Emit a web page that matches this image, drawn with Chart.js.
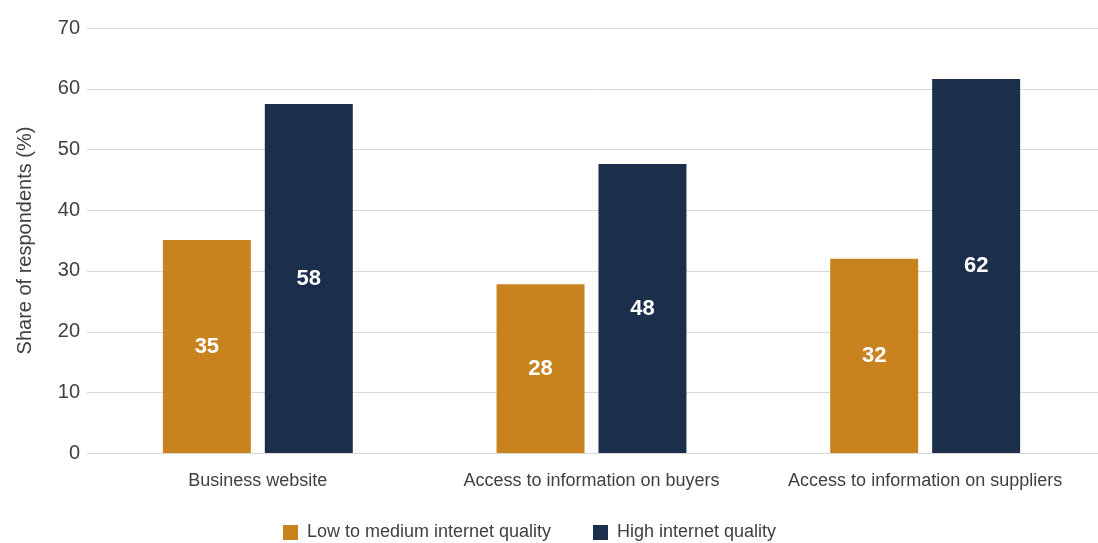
<!DOCTYPE html>
<html>
<head>
<meta charset="utf-8">
<script src="https://cdn.jsdelivr.net/npm/chart.js@4"></script>
<style>
  html, body { margin: 0; padding: 0; background: #ffffff; }
  #wrap { width: 1098px; height: 543px; position: relative; }
</style>
</head>
<body>
<div id="wrap"><canvas id="c"></canvas></div>
<script>
const categories = ["Business website", "Access to information on buyers", "Access to information on suppliers"];
const seriesNames = ["Low to medium internet quality", "High internet quality"];
const lowMedium = [35.1, 27.8, 32.0];
const high = [57.5, 47.6, 61.6];
const yTicks = [0, 10, 20, 30, 40, 50, 60, 70];
const colors = ["#C8821E", "#1B2F4D"];

const FONT = "'Liberation Sans', Arial, Helvetica, sans-serif";
const TEXT = "#404040";

// Horizontal gridlines, positioned by the y scale, extended slightly past the plot edges
const gridPlugin = {
  id: 'gridExt',
  beforeDatasetsDraw(chart) {
    const ctx = chart.ctx;
    const y = chart.scales.y;
    ctx.save();
    ctx.strokeStyle = "#d9d9d9";
    ctx.lineWidth = 1;
    yTicks.forEach(v => {
      const py = Math.round(y.getPixelForValue(v)) + 0.5;
      ctx.beginPath();
      ctx.moveTo(chart.chartArea.left - 4, py);
      ctx.lineTo(chart.width, py);
      ctx.stroke();
    });
    ctx.restore();
  }
};

const valueLabels = {
  id: 'valueLabels',
  afterDatasetsDraw(chart) {
    const ctx = chart.ctx;
    ctx.save();
    ctx.font = "bold 22px " + FONT;
    ctx.fillStyle = "#ffffff";
    ctx.textAlign = "center";
    ctx.textBaseline = "middle";
    chart.data.datasets.forEach((ds, di) => {
      const meta = chart.getDatasetMeta(di);
      meta.data.forEach((el, i) => {
        ctx.fillText(String(Math.round(ds.data[i])), el.x, (el.y + el.base) / 2);
      });
    });
    ctx.restore();
  }
};

const legendPlugin = {
  id: 'bottomLegend',
  afterDraw(chart) {
    const ctx = chart.ctx;
    const box = 15, gapText = 9, gapItem = 42, cy = 532, centerX = 529.5;
    ctx.save();
    ctx.font = "18px " + FONT;
    const items = chart.data.datasets.map(ds => ({ text: ds.label, color: ds.backgroundColor, w: ctx.measureText(ds.label).width }));
    const total = items.reduce((s, it) => s + box + gapText + it.w, 0) + gapItem * (items.length - 1);
    let x = centerX - total / 2;
    ctx.textBaseline = "middle";
    ctx.textAlign = "left";
    items.forEach(it => {
      ctx.fillStyle = it.color;
      ctx.fillRect(Math.round(x), Math.round(cy - box / 2), box, box);
      ctx.fillStyle = TEXT;
      ctx.fillText(it.text, x + box + gapText, cy);
      x += box + gapText + it.w + gapItem;
    });
    ctx.restore();
  }
};

new Chart(document.getElementById('c'), {
  type: 'bar',
  data: {
    labels: categories,
    datasets: [
      { label: seriesNames[0], data: lowMedium, backgroundColor: colors[0], borderWidth: 0 },
      { label: seriesNames[1], data: high, backgroundColor: colors[1], borderWidth: 0 }
    ]
  },
  options: {
    responsive: true,
    maintainAspectRatio: false,
    animation: false,
    devicePixelRatio: 1,
    datasets: { bar: { categoryPercentage: 0.611, barPercentage: 0.863 } },
    layout: { padding: { top: 28, left: 0, right: 6, bottom: 50 } },
    plugins: {
      tooltip: { enabled: false },
      legend: { display: false }
    },
    scales: {
      x: {
        grid: { display: false, drawTicks: false },
        border: { display: false },
        ticks: { color: TEXT, padding: 17, font: { family: FONT, size: 18 }, maxRotation: 0, autoSkip: false },
        afterFit(scale) { scale.height = 40; }
      },
      y: {
        min: 0,
        max: 70,
        afterBuildTicks(scale) { scale.ticks = yTicks.map(v => ({ value: v })); },
        grid: { display: false, drawTicks: false },
        border: { display: false },
        ticks: { color: TEXT, padding: 11, font: { family: FONT, size: 20 } },
        title: {
          display: true,
          text: "Share of respondents (%)",
          color: TEXT,
          font: { family: FONT, size: 20 },
          padding: { top: 13, bottom: 0 }
        },
        afterFit(scale) { scale.width = 91; }
      }
    }
  },
  plugins: [gridPlugin, valueLabels, legendPlugin]
});
</script>
</body>
</html>
